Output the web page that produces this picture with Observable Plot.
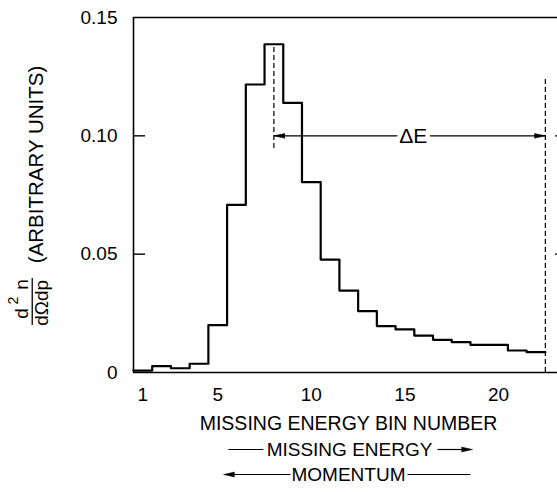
<!DOCTYPE html>
<html>
<head>
<meta charset="utf-8">
<script src="https://cdn.jsdelivr.net/npm/d3@7"></script>
<script src="https://cdn.jsdelivr.net/npm/@observablehq/plot@0.6"></script>
<style>
  html, body { margin: 0; padding: 0; background: #fff; }
  #chart svg { display: block; }
</style>
</head>
<body>
<div id="chart"></div>
<script>
// Data
const bins = [1,2,3,4,5,6,7,8,9,10,11,12,13,14,15,16,17,18,19,20,21,22];
const values = [0.0008, 0.0027, 0.0018, 0.0037, 0.0200, 0.0708, 0.1217, 0.1387, 0.1139, 0.0804,
                0.0477, 0.0346, 0.0259, 0.0196, 0.0182, 0.0156, 0.0138, 0.0128, 0.0117, 0.0117,
                0.0093, 0.0086];
const xTicks = [1, 5, 10, 15, 20];
const yTicks = [0, 0.05, 0.10, 0.15];
const yInnerTicks = [0.05, 0.10];
const deltaStart = 8;      // bin centre of the peak
const deltaEnd = 22.5;     // right edge of last bin
const deltaLevel = 0.10;

// Step outline built from the bins
const steps = bins.map((b, i) => ({x: b - 0.5, y: values[i]}))
  .concat([{x: bins[bins.length - 1] + 0.5, y: values[values.length - 1]}]);

const W = 557, H = 492, ML = 133, MT = 17, MB = 120, MR = 0;
const xDomain = [0.5, 23.15];
const frameW = W - ML - MR;

const dashed = [
  {x: deltaStart, y1: 0.0946, y2: values[bins.indexOf(deltaStart)]},
  {x: deltaEnd, y1: 0, y2: 0.1246}
];

const T = {textAnchor: "middle", lineAnchor: "middle", fill: "black"};
const R = {...T, frameAnchor: "left", rotate: -90, text: d => d};

const chart = Plot.plot({
  width: W, height: H,
  marginLeft: ML, marginTop: MT, marginBottom: MB, marginRight: MR,
  style: {fontFamily: "'Liberation Sans', Arial, sans-serif", fontSize: "19px", color: "black", background: "white"},
  x: {domain: xDomain},
  y: {domain: [0, 0.15]},
  marks: [
    // frame
    Plot.ruleY([0, 0.15], {stroke: "black", strokeWidth: 1.6}),
    Plot.ruleX([xDomain[0]], {y1: 0, y2: 0.15, stroke: "black", strokeWidth: 1.6}),
    // inward ticks
    Plot.tickY(yInnerTicks, {y: d => d, insetRight: frameW - 12, stroke: "black", strokeWidth: 1.4}),
    Plot.tickY(yInnerTicks, {y: d => d, insetLeft: frameW - 2, stroke: "black", strokeWidth: 1.4}),
    // axes
    Plot.axisY(yTicks, {tickSize: 0, tickPadding: 16, fontSize: 19, label: null,
      tickFormat: d => d === 0 ? "0" : d.toFixed(2)}),
    Plot.axisX(xTicks, {tickSize: 0, tickPadding: 15, fontSize: 19, label: null}),
    // histogram
    Plot.line(steps, {x: "x", y: "y", curve: "step-after", stroke: "black", strokeWidth: 2.2}),
    // dashed markers
    Plot.ruleX(dashed, {x: "x", y1: "y1", y2: "y2", stroke: "black", strokeWidth: 1.2, strokeDasharray: "5,3"}),
    // ΔE arrow
    Plot.link([{x1: deltaStart, x2: deltaEnd, y: deltaLevel}], {x1: "x1", x2: "x2", y1: "y", y2: "y", stroke: "black", strokeWidth: 1.1}),
    Plot.vector([{x: deltaStart, y: deltaLevel, r: -90}, {x: deltaEnd, y: deltaLevel, r: 90}],
      {x: "x", y: "y", rotate: "r", length: 11, r: 2.4, shape: "spike", anchor: "end", fill: "black", stroke: "black", strokeWidth: 0.5}),
    Plot.text(["ΔE"], {...T, x: () => (deltaStart + deltaEnd) / 2 + 0.2, y: () => deltaLevel, text: d => d,
      fontSize: 21, stroke: "white", strokeWidth: 9}),
    // y-axis label
    Plot.text(["(ARBITRARY UNITS)"], {...R, y: () => 0.0879, dx: -97, fontSize: 20.5}),
    Plot.text(["d"], {...R, y: () => 0.0249, dx: -112, fontSize: 19}),
    Plot.text(["2"], {...R, y: () => 0.0304, dx: -119.5, fontSize: 14}),
    Plot.text(["n"], {...R, y: () => 0.0372, dx: -112, fontSize: 19}),
    Plot.text(["dΩdp"], {...R, y: () => 0.0294, dx: -92, fontSize: 19}),
    Plot.ruleX([-4.91], {y1: 0.0199, y2: 0.0397, stroke: "black", strokeWidth: 1.3}),
    // x-axis labels
    Plot.text(["MISSING ENERGY BIN NUMBER"], {...T, frameAnchor: "bottom", dx: 3, dy: 51, text: d => d, fontSize: 19.5}),
    Plot.text(["MISSING ENERGY"], {...T, frameAnchor: "bottom", dx: 4, dy: 77, text: d => d, fontSize: 19}),
    Plot.text(["MOMENTUM"], {...T, frameAnchor: "bottom", dx: 3, dy: 102, text: d => d, fontSize: 19}),
    // direction arrows under the axis
    Plot.link([{x1: 5.57, x2: 7.44}, {x1: 16.74, x2: 18.2}], {x1: "x1", x2: "x2", y1: () => 0, y2: () => 0, dy: 77, stroke: "black", strokeWidth: 1.2}),
    Plot.link([{x1: 5.6, x2: 8.89}, {x1: 15.14, x2: 18.5}], {x1: "x1", x2: "x2", y1: () => 0, y2: () => 0, dy: 102, stroke: "black", strokeWidth: 1.2}),
    Plot.vector([{x: 18.61, y: 0, r: 90}], {x: "x", y: "y", rotate: "r", dy: 77, length: 11, r: 2.4, shape: "spike", anchor: "end", fill: "black", stroke: "black", strokeWidth: 0.5}),
    Plot.vector([{x: 5.31, y: 0, r: -90}], {x: "x", y: "y", rotate: "r", dy: 102, length: 11, r: 2.4, shape: "spike", anchor: "end", fill: "black", stroke: "black", strokeWidth: 0.5})
  ]
});
document.getElementById("chart").appendChild(chart);
</script>
</body>
</html>
